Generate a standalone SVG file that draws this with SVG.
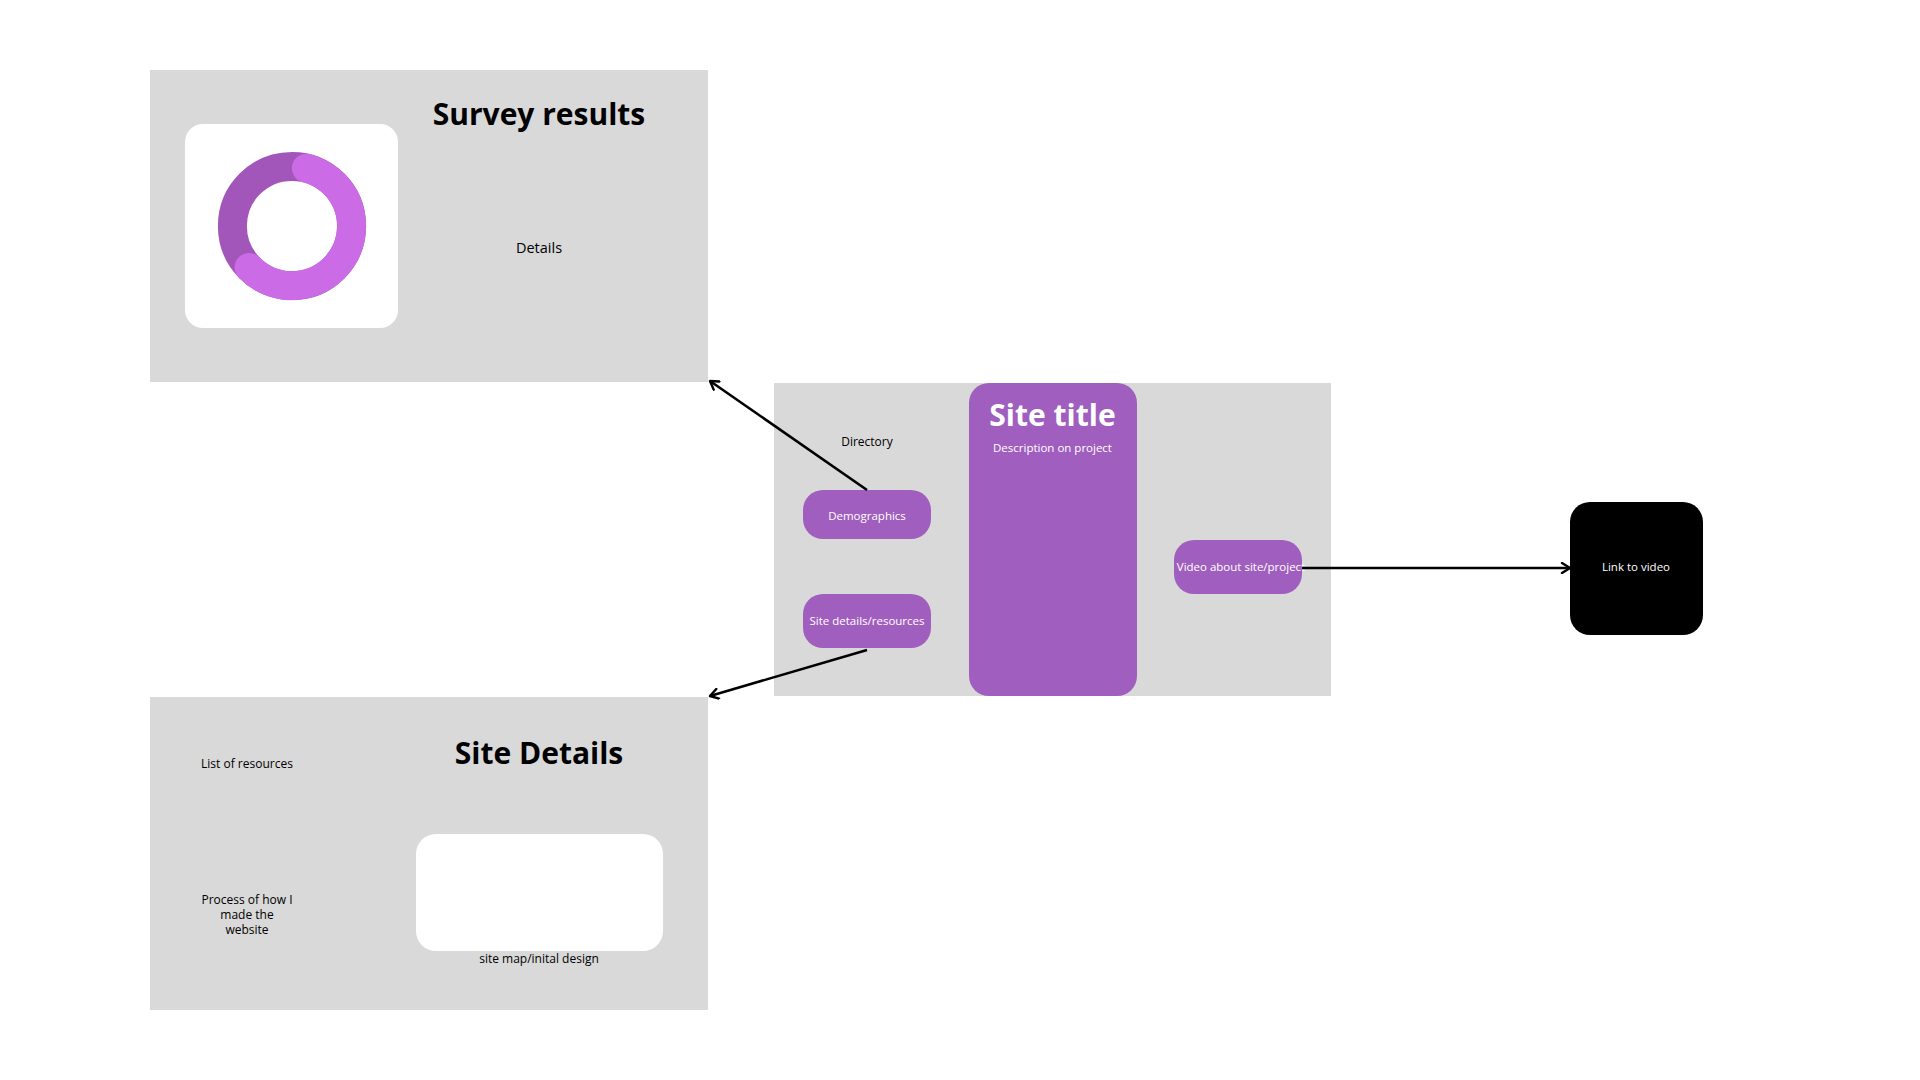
<svg xmlns="http://www.w3.org/2000/svg" width="1920" height="1080" viewBox="0 0 1920 1080">
<style>
.panel{fill:#d9d9d9}
.btn{fill:#a05fbe}
.t{font-family:"Open Sans","Noto Sans","Liberation Sans",sans-serif;text-anchor:middle}
.h{font-size:30px;font-weight:700;fill:#000}
.s{font-size:12px;fill:#000}
.w{font-size:11.5px;fill:#fff}
.conn{stroke:#000;stroke-width:2.6;fill:none}
</style>
<defs>
<marker id="arr" viewBox="0 0 12 12" refX="10" refY="6" markerWidth="12" markerHeight="12" markerUnits="userSpaceOnUse" orient="auto">
<path d="M2,1 L10,6 L2,11" fill="none" stroke="#000" stroke-width="2.4" stroke-linecap="round" stroke-linejoin="round"/>
</marker>
</defs>
<rect width="1920" height="1080" fill="#fff"/>

<g id="survey-results">
<rect class="panel" x="150" y="70" width="558" height="312"/>
<rect x="185" y="124" width="213" height="204" rx="18" fill="#fff"/>
<circle cx="292" cy="226" r="59.6" fill="none" stroke="#a356ba" stroke-width="29"/>
<path d="M306.4,168.2 A59.6,59.6 0 1 1 249.1,267.4" fill="none" stroke="#cb6ce6" stroke-width="29" stroke-linecap="round"/>
<text class="t h" x="539" y="125">Survey results</text>
<text class="t" x="539" y="253" font-size="14.5">Details</text>
</g>

<g id="site-details">
<rect class="panel" x="150" y="697" width="558" height="313"/>
<rect x="416" y="834" width="247" height="117" rx="20" fill="#fff"/>
<text class="t h" x="539" y="764">Site Details</text>
<text class="t s" x="247" y="768">List of resources</text>
<text class="t s" x="247" y="904">Process of how I</text>
<text class="t s" x="247" y="919">made the</text>
<text class="t s" x="247" y="934">website</text>
<text class="t s" x="539" y="963">site map/inital design</text>
</g>

<g id="home">
<rect class="panel" x="774" y="383" width="557" height="313"/>
<text class="t s" x="867" y="446">Directory</text>
</g>

<g id="site-title">
<rect class="btn" x="969" y="383" width="168" height="313" rx="20"/>
<text class="t h" x="1052.5" y="426" fill="#fff" style="fill:#fff">Site title</text>
<text class="t w" x="1052.5" y="452">Description on project</text>
</g>

<g id="demographics">
<rect class="btn" x="803" y="490" width="128" height="49" rx="20"/>
<text class="t w" x="867" y="519.5">Demographics</text>
</g>

<g id="site-details-resources">
<rect class="btn" x="803" y="594" width="128" height="54" rx="20"/>
<text class="t w" x="867" y="625">Site details/resources</text>
</g>

<g id="video">
<rect class="btn" x="1174" y="540" width="128" height="54" rx="20"/>
<text class="t w" x="1241" y="571">Video about site/project</text>
</g>

<g id="link-to-video">
<rect x="1570" y="502" width="133" height="133" rx="20" fill="#000"/>
<text class="t w" x="1636" y="571">Link to video</text>
</g>

<g id="connectors">
<line class="conn" x1="867" y1="490" x2="710" y2="381" marker-end="url(#arr)"/>
<line class="conn" x1="867" y1="650" x2="710" y2="696" marker-end="url(#arr)"/>
<line class="conn" x1="1302" y1="568" x2="1570" y2="568" marker-end="url(#arr)"/>
</g>
</svg>
